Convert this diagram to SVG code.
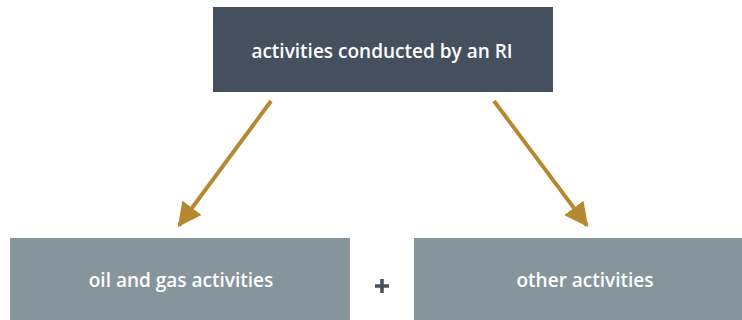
<svg xmlns="http://www.w3.org/2000/svg" width="742" height="320" viewBox="0 0 742 320">
  <style>
    .lbl { font-family: "Open Sans", Lato, "Liberation Sans", sans-serif; font-weight: 600; font-size: 19px; fill: #ffffff; text-anchor: middle; font-variant-ligatures: none; }
    .top { fill: #45505f; }
    .part { fill: #86959c; }
    .conn { stroke: #b5892f; stroke-width: 4; fill: none; }
  </style>
  <defs>
    <marker id="head" markerWidth="6" markerHeight="6" refX="5.5" refY="3" orient="auto" markerUnits="strokeWidth" viewBox="0 0 6 6">
      <path d="M0,0 L6,3 L0,6 Z" fill="#b5892f"/>
    </marker>
  </defs>

  <g id="node-ri">
    <rect class="top" x="213" y="7" width="340" height="85"/>
    <text class="lbl" x="382" y="58">activities conducted by an RI</text>
  </g>

  <g id="node-oil-gas">
    <rect class="part" x="10" y="238" width="340" height="82"/>
    <text class="lbl" x="181" y="287">oil and gas activities</text>
  </g>

  <g id="node-other">
    <rect class="part" x="414" y="238" width="328" height="82"/>
    <text class="lbl" x="585" y="287">other activities</text>
  </g>

  <g id="plus">
    <path d="M375,286 H389 M382,279 V293" stroke="#45505f" stroke-width="3.5" fill="none"/>
  </g>

  <g id="connectors">
    <line class="conn" x1="271" y1="101" x2="179" y2="225.5" marker-end="url(#head)"/>
    <line class="conn" x1="494" y1="101" x2="587" y2="225.5" marker-end="url(#head)"/>
  </g>
</svg>
